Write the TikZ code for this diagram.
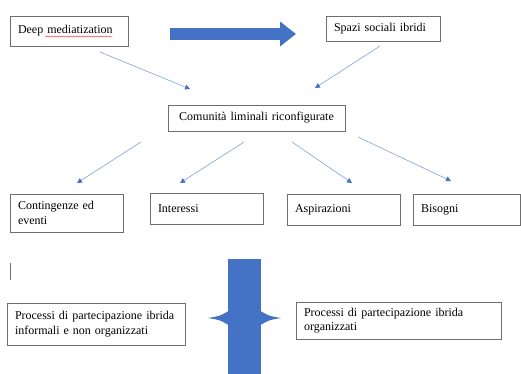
\documentclass[tikz,border=0pt]{standalone}
\usepackage{fontspec}
\setmainfont{Liberation Serif}
\usetikzlibrary{arrows.meta,decorations.pathmorphing}
\definecolor{officeblue}{HTML}{4472C4}
\definecolor{lightblue}{HTML}{8FAADC}
\definecolor{boxgray}{HTML}{6E6E6E}

\begin{document}
\begin{tikzpicture}[x=1pt,y=-1pt,
    box/.style={draw=boxgray, fill=white, line width=0.8pt, align=left, inner xsep=8pt, inner ysep=0pt, font=\fontsize{12}{14.5}\selectfont},
    thin/.style={draw=lightblue, line width=0.7pt, -{Triangle[length=5pt,width=5pt,color=officeblue]}}]
   \useasboundingbox (0,0) rectangle (521,374);

   % top row
   \node[box, text width=102pt, minimum height=30pt] (deep) at (69,31) {Deep mediatization};
   \draw[red!80, line width=0.4pt, decorate, decoration={snake, amplitude=0.5pt, segment length=2pt}] (45,36.5) -- (112,36.5);
   \node[box, text width=98pt, minimum height=25pt] (spazi) at (383,28.5) {Spazi sociali ibridi};
   \coordinate (bigstart) at (170,34);
   \coordinate (bigend) at (296,34);
   \draw[officeblue, line width=12pt, -{Triangle[length=16pt,width=24pt]}] (bigstart) -- (bigend);

   \node[box, align=center, text width=161pt, minimum height=26pt] (comunita) at (256.5,118) {Comunità liminali riconfigurate};

   \coordinate (a1s) at (100,52);   \coordinate (a1e) at (190,89);
   \coordinate (a2s) at (380,46);   \coordinate (a2e) at (315,88);
   \draw[thin] (a1s) -- (a1e);
   \draw[thin] (a2s) -- (a2e);

   % second row
   \node[box, text width=97pt, minimum height=38pt] (contingenze) at (66.5,213) {Contingenze ed\\eventi};
   \node[box, text width=97pt, minimum height=31pt] (interessi) at (206.5,208.5) {Interessi};
   \node[box, text width=97pt, minimum height=31pt] (aspirazioni) at (343.5,209.5) {Aspirazioni};
   \node[box, text width=91pt, minimum height=31pt] (bisogni) at (466.5,209.5) {Bisogni};

   \coordinate (b1s) at (141,142);  \coordinate (b1e) at (77,183);
   \coordinate (b2s) at (244,142);  \coordinate (b2e) at (180,183);
   \coordinate (b3s) at (292,142);  \coordinate (b3e) at (352,183);
   \coordinate (b4s) at (358,137);  \coordinate (b4e) at (451,181);
   \draw[thin] (b1s) -- (b1e);
   \draw[thin] (b2s) -- (b2e);
   \draw[thin] (b3s) -- (b3e);
   \draw[thin] (b4s) -- (b4e);

   % bottom row
   \draw[boxgray, line width=0.6pt] (10,263) -- (10,280);

   \node[box, text width=162pt, minimum height=42pt] (informali) at (96,324) {Processi di partecipazione ibrida\\informali e non organizzati};
   \node[box, text width=189pt, minimum height=37pt] (organizzati) at (398.5,320.5) {Processi di partecipazione ibrida\\organizzati};

   \fill[officeblue] (228,259) rectangle (261,374);
   \fill[officeblue] (228.5,311) .. controls (220,316) .. (208,318) .. controls (220,320) .. (228.5,325) -- cycle;
   \fill[officeblue] (260.5,311) .. controls (269,316) .. (281,318) .. controls (269,320) .. (260.5,325) -- cycle;
\end{tikzpicture}
\end{document}
